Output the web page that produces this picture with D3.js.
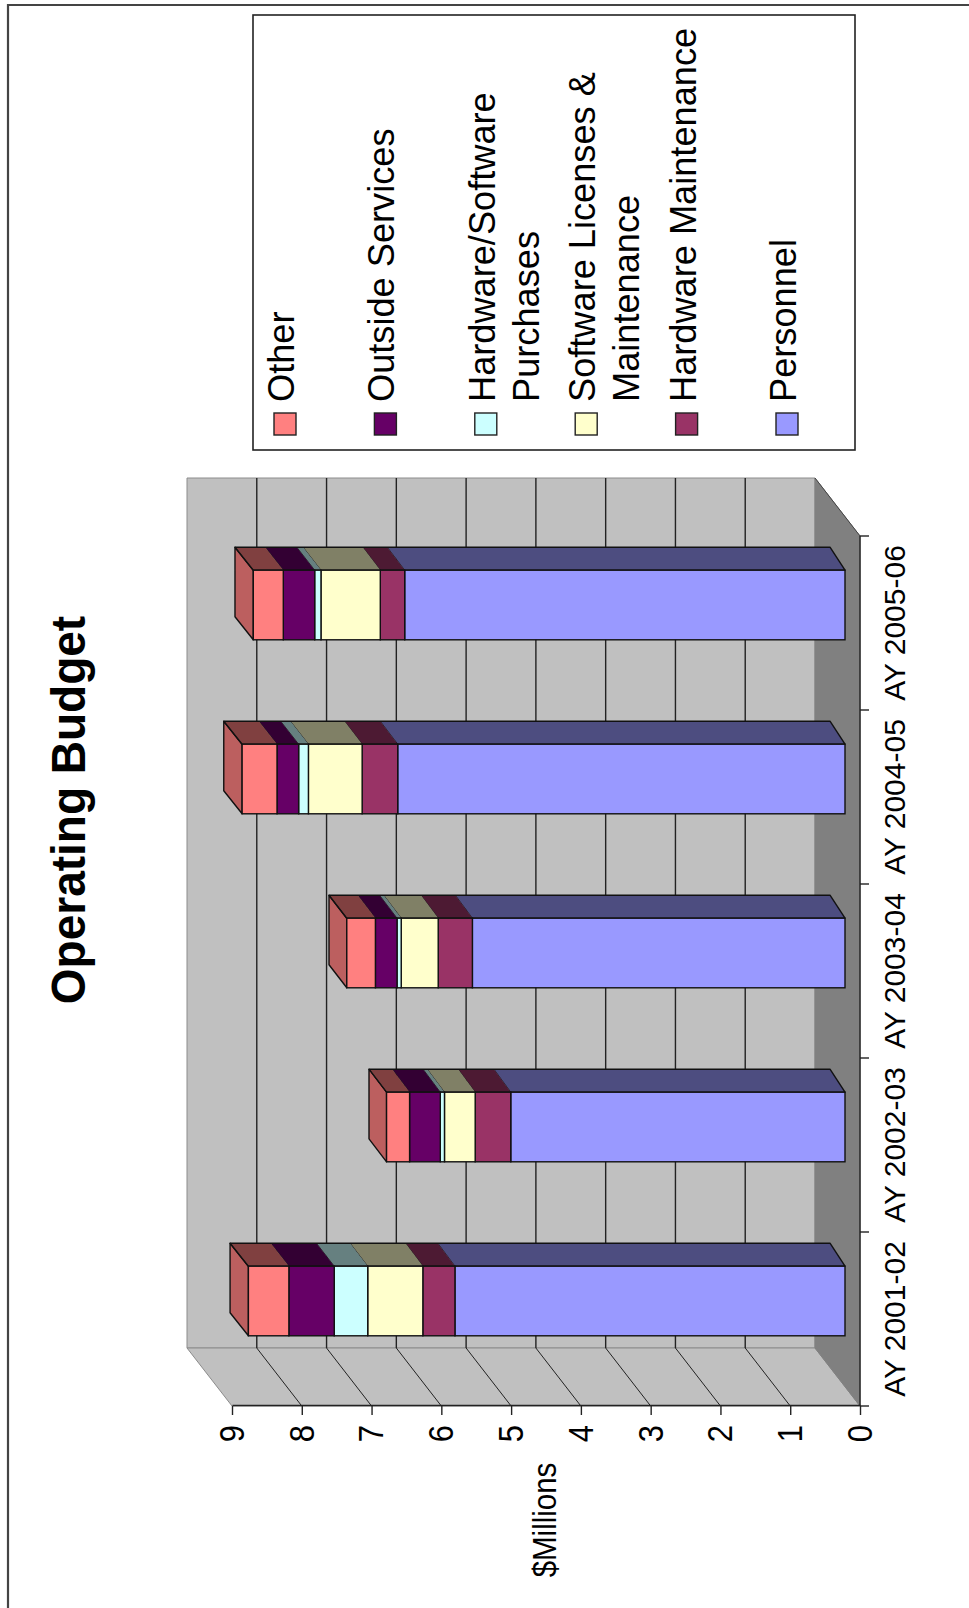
<!DOCTYPE html>
<html>
<head>
<meta charset="utf-8">
<style>
  html, body { margin: 0; padding: 0; background: #fff; }
  svg { display: block; }
  text { font-family: "Liberation Sans", Arial, sans-serif; fill: #000; }
</style>
<script src="https://cdn.jsdelivr.net/npm/d3@7"></script>
</head>
<body>
<svg id="chart"></svg>
<script>
var categories = ["AY 2001-02", "AY 2002-03", "AY 2003-04", "AY 2004-05", "AY 2005-06"];

// $ millions per academic year, bottom of the stack first
var personnel = [5.59, 4.79, 5.34, 6.41, 6.31];
var hardwareMaint = [0.46, 0.51, 0.49, 0.51, 0.35];
var softwareLic = [0.79, 0.44, 0.53, 0.77, 0.85];
var hardwarePurch = [0.48, 0.06, 0.06, 0.14, 0.09];
var outside = [0.65, 0.44, 0.31, 0.31, 0.45];
var other = [0.58, 0.33, 0.41, 0.50, 0.43];

var seriesKeys = ["personnel", "hardwareMaint", "softwareLic", "hardwarePurch", "outside", "other"];
var seriesValues = [personnel, hardwareMaint, softwareLic, hardwarePurch, outside, other];
var seriesColors = ["#9999ff", "#993366", "#ffffcc", "#ccffff", "#660066", "#ff8080"];

var legendKeys = ["other", "outside", "hardwarePurch", "softwareLic", "hardwareMaint", "personnel"];
var legendLines = [
  ["Other"],
  ["Outside Services"],
  ["Hardware/Software", "Purchases"],
  ["Software Licenses &", "Maintenance"],
  ["Hardware Maintenance"],
  ["Personnel"]
];

var valueTicks = [0, 1, 2, 3, 4, 5, 6, 7, 8, 9];

var width = 969,
    height = 1608;

var svg = d3.select("#chart").attr("width", width).attr("height", height);

// page frame, only the top and left edges show
svg.append("path")
  .attr("d", "M8," + height + "V5H" + width)
  .attr("fill", "none")
  .attr("stroke", "#444")
  .attr("stroke-width", 2.2);

// the sheet is landscape, turned a quarter so that x runs up the page
var g = svg.append("g")
  .attr("transform", "translate(0," + height + ") rotate(-90)");

var x = d3.scaleBand()
  .domain(categories)
  .range([202, 1072])
  .paddingInner(0.6)
  .paddingOuter(0.3);

var y = d3.scaleLinear().domain([0, 9]).range([860, 232]);

var color = d3.scaleOrdinal().domain(seriesKeys).range(seriesColors);

// depth of the walls and of the bars, in px
var wallDx = 58, wallDy = -45;
var barShiftX = 18, barShiftY = -15;
var barDx = 23;

// back edge of a bar recedes a little more the higher it gets
var yBack = d3.scaleLinear().domain([0, 9]).range([y(0) + barShiftY - 15, y(9) + barShiftY - 18.5]);

var line = d3.line();

function poly(sel, pts, fill, stroke, sw) {
  return sel.append("path")
    .attr("d", line(pts) + "Z")
    .attr("fill", fill)
    .attr("stroke", stroke)
    .attr("stroke-width", sw)
    .attr("stroke-linejoin", "round");
}

var x0 = x.range()[0], x1 = x.range()[1];
var y0 = y(0), y9 = y(9);

// back wall, side wall, floor
poly(g, [[x0 + wallDx, y9 + wallDy], [x1 + wallDx, y9 + wallDy], [x1 + wallDx, y0 + wallDy], [x0 + wallDx, y0 + wallDy]], "#c0c0c0", "#8c8c8c", 1);
poly(g, [[x0, y9], [x0 + wallDx, y9 + wallDy], [x0 + wallDx, y0 + wallDy], [x0, y0]], "#c0c0c0", "#8c8c8c", 1);
poly(g, [[x0, y0], [x0 + wallDx, y0 + wallDy], [x1 + wallDx, y0 + wallDy], [x1, y0]], "#808080", "#808080", 1);
g.append("line")
  .attr("x1", x1).attr("x2", x1 + wallDx)
  .attr("y1", y0).attr("y2", y0 + wallDy)
  .attr("stroke", "#444").attr("stroke-width", 1);

// gridlines
valueTicks.slice(1, -1).forEach(function(t) {
  g.append("line")
    .attr("x1", x0 + wallDx).attr("x2", x1 + wallDx)
    .attr("y1", y(t) + wallDy).attr("y2", y(t) + wallDy)
    .attr("stroke", "#222").attr("stroke-width", 1.4);
  g.append("line")
    .attr("x1", x0).attr("x2", x0 + wallDx)
    .attr("y1", y(t)).attr("y2", y(t) + wallDy)
    .attr("stroke", "#222").attr("stroke-width", 1);
});

var table = categories.map(function(c, i) {
  var row = { category: c };
  seriesKeys.forEach(function(k, j) { row[k] = seriesValues[j][i]; });
  return row;
});

var stacked = d3.stack().keys(seriesKeys)(table);

var outline = "#111";

categories.forEach(function(c, i) {
  var bar = g.append("g").attr("class", "bar");
  var u0 = x(c) + barShiftX;
  var u1 = u0 + x.bandwidth();

  // bar end, facing the value side
  var top = stacked[stacked.length - 1][i][1];
  var vt = y(top) + barShiftY;
  var vtBack = yBack(top);
  poly(bar, [[u0, vt], [u1, vt], [u1 + barDx, vtBack], [u0 + barDx, vtBack]],
    d3.rgb(color("other")).darker(0.85), outline, 1.4);

  stacked.forEach(function(s) {
    var va = y(s[i][0]) + barShiftY;
    var vb = y(s[i][1]) + barShiftY;
    // receding side, half the face colour
    var c0 = d3.rgb(color(s.key));
    var dark = d3.rgb(c0.r / 2, c0.g / 2, c0.b / 2);
    poly(bar, [[u1, va], [u1, vb], [u1 + barDx, yBack(s[i][1])], [u1 + barDx, yBack(s[i][0])]], dark, "none", 0);
    bar.append("line")
      .attr("x1", u1).attr("x2", u1 + barDx)
      .attr("y1", vb).attr("y2", yBack(s[i][1]))
      .attr("stroke", outline).attr("stroke-width", 0.8);
  });

  // outer edge of the receding side
  poly(bar, [[u1, y(0) + barShiftY], [u1, vt], [u1 + barDx, vtBack], [u1 + barDx, yBack(0)]], "none", outline, 1.4);

  stacked.forEach(function(s) {
    var va = y(s[i][0]) + barShiftY;
    var vb = y(s[i][1]) + barShiftY;
    bar.append("rect")
      .attr("x", u0)
      .attr("y", vb)
      .attr("width", u1 - u0)
      .attr("height", va - vb)
      .attr("fill", color(s.key))
      .attr("stroke", outline)
      .attr("stroke-width", 1.4);
  });
});

// category axis, labels sit under the band centres
var axisX = g.append("g")
  .attr("transform", "translate(0," + y0 + ")")
  .call(d3.axisBottom(x).tickSize(0));
axisX.select(".domain").remove();
axisX.selectAll("text")
  .attr("y", 45)
  .attr("dy", 0)
  .style("font-size", "30px")
  .style("font-family", null);

// ticks fall between the categories
d3.range(categories.length + 1).forEach(function(i) {
  var u = x0 + i * x.step();
  g.append("line")
    .attr("x1", u).attr("x2", u)
    .attr("y1", y0).attr("y2", y0 + 9)
    .attr("stroke", "#222").attr("stroke-width", 1.4);
});
g.append("line")
  .attr("x1", x0).attr("x2", x1)
  .attr("y1", y0).attr("y2", y0)
  .attr("stroke", "#222").attr("stroke-width", 1.4);

// value axis, digits run a little tall
var axisY = g.append("g")
  .attr("transform", "translate(" + x0 + ",0)")
  .call(d3.axisLeft(y).tickValues(valueTicks).tickFormat(d3.format("d")).tickSize(9).tickSizeOuter(0).tickPadding(10));
axisY.select(".domain").attr("stroke", "#222").attr("stroke-width", 1.4);
axisY.selectAll(".tick line").attr("stroke", "#222").attr("stroke-width", 1.4);
axisY.selectAll("text")
  .attr("transform", "scale(1,1.15)")
  .style("font-size", "31px")
  .style("font-family", null);

g.append("text")
  .attr("transform", "translate(798,85) scale(1,1.05)")
  .attr("text-anchor", "middle")
  .style("font-size", "46px")
  .style("font-weight", "bold")
  .text("Operating Budget");

g.append("text")
  .attr("transform", "translate(88,556) scale(1,1.15)")
  .attr("text-anchor", "middle")
  .style("font-size", "29.5px")
  .text("$Millions");

// legend
var legendBox = { u0: 1158, u1: 1593, v0: 253, v1: 855 };
g.append("rect")
  .attr("x", legendBox.u0)
  .attr("y", legendBox.v0)
  .attr("width", legendBox.u1 - legendBox.u0)
  .attr("height", legendBox.v1 - legendBox.v0)
  .attr("fill", "#fff")
  .attr("stroke", "#222")
  .attr("stroke-width", 1.6);

var legendY = d3.scalePoint().domain(legendKeys).range([294, 796]);
var swatch = 22;

var legend = g.selectAll(".legend")
  .data(legendKeys)
  .enter().append("g")
  .attr("class", "legend")
  .attr("transform", function(d) { return "translate(1173," + legendY(d) + ")"; });

legend.append("rect")
  .attr("y", -swatch + 2)
  .attr("width", swatch)
  .attr("height", swatch)
  .attr("fill", color)
  .attr("stroke", "#222")
  .attr("stroke-width", 1.4);

legend.each(function(d, i) {
  d3.select(this).selectAll("text")
    .data(legendLines[i])
    .enter().append("text")
    .attr("x", 33)
    .attr("y", function(t, j) { return j * 44; })
    .style("font-size", "36.2px")
    .text(function(t) { return t; });
});
</script>
</body>
</html>
